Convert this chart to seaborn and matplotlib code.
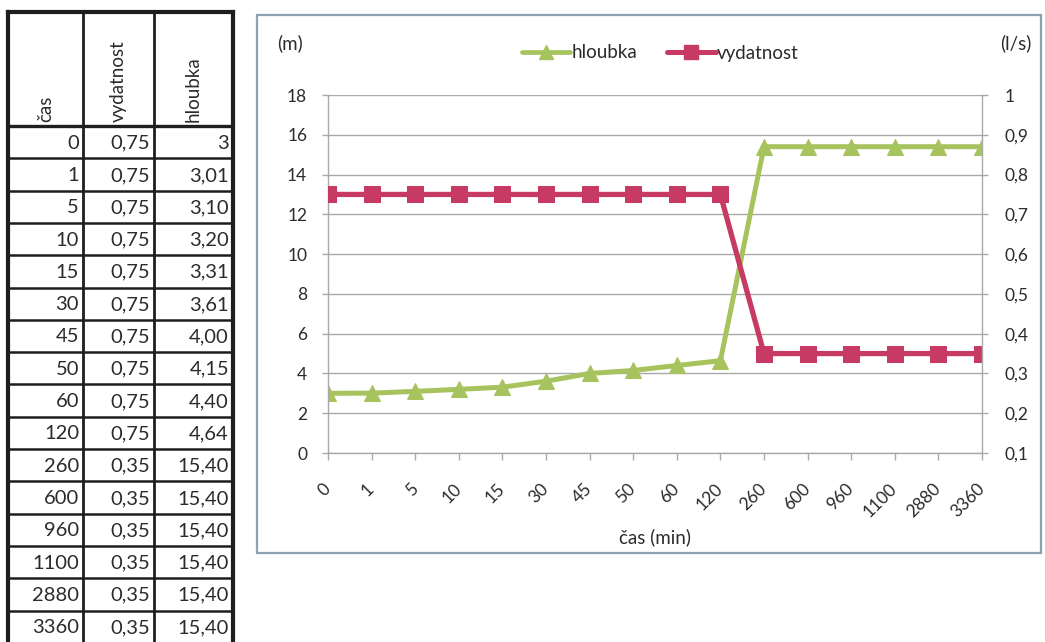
import matplotlib
matplotlib.use("Agg")
import matplotlib.pyplot as plt
from matplotlib.lines import Line2D
from matplotlib.patches import Rectangle
import seaborn as sns
import pandas as pd

# measured pumping test data
cas = [0, 1, 5, 10, 15, 30, 45, 50, 60, 120, 260, 600, 960, 1100, 2880, 3360]
vydatnost = [0.75, 0.75, 0.75, 0.75, 0.75, 0.75, 0.75, 0.75, 0.75, 0.75,
             0.35, 0.35, 0.35, 0.35, 0.35, 0.35]
hloubka = [3, 3.01, 3.10, 3.20, 3.31, 3.61, 4.00, 4.15, 4.40, 4.64,
           15.40, 15.40, 15.40, 15.40, 15.40, 15.40]
hloubka_text = ["3", "3,01", "3,10", "3,20", "3,31", "3,61", "4,00", "4,15", "4,40",
                "4,64", "15,40", "15,40", "15,40", "15,40", "15,40", "15,40"]
left_ticks = [0, 2, 4, 6, 8, 10, 12, 14, 16, 18]
right_ticks = [0.1, 0.2, 0.3, 0.4, 0.5, 0.6, 0.7, 0.8, 0.9, 1.0]

sns.set_theme(style="white")
plt.rcParams["font.family"] = ["Lato", "DejaVu Sans"]

W, H = 1045, 642
GREEN = "#A7C35E"
RED = "#C73A64"
GRID = "#A9A9A9"
TEXT = "#2B2B2B"


def fx(px):
    return px / W


def fy(py):
    return 1 - py / H


fig = plt.figure(figsize=(W / 100, H / 100), dpi=100)
fig.patch.set_facecolor("white")

df = pd.DataFrame({"pos": list(range(len(cas))), "cas": cas,
                   "hloubka": hloubka, "vydatnost": vydatnost})

# ---- chart frame ----
fig.add_artist(Rectangle((fx(257), fy(553)), fx(1041) - fx(257), fy(15) - fy(553),
                         transform=fig.transFigure, fill=False,
                         edgecolor="#8FA2B5", lw=1.6))

ax = fig.add_axes([fx(328), fy(453), fx(982) - fx(328), fy(95) - fy(453)])
ax.set_facecolor("none")
sns.lineplot(data=df, x="pos", y="hloubka", ax=ax, color=GREEN, lw=3.6,
             marker="^", markersize=11.5, markeredgecolor=GREEN, legend=False)
ax.set_xlim(0, len(cas) - 1)
ax.set_ylim(left_ticks[0], left_ticks[-1])
ax.set_yticks(left_ticks)
ax.set_yticklabels([str(v) for v in left_ticks])
ax.set_xticks(df["pos"])
ax.set_xticklabels([str(c) for c in cas], rotation=45, ha="right", va="center",
                   rotation_mode="anchor")
ax.set_xlabel("")
ax.set_ylabel("")
ax.yaxis.grid(True, color=GRID, lw=1.0)
ax.xaxis.grid(False)
ax.set_axisbelow(True)
for s in ["top", "right"]:
    ax.spines[s].set_visible(False)
for s in ["left", "bottom"]:
    ax.spines[s].set_color(GRID)
    ax.spines[s].set_linewidth(1.0)
ax.tick_params(axis="y", which="both", left=True, length=4, width=1, color=GRID,
               labelsize=12.5, labelcolor=TEXT, pad=11)
ax.tick_params(axis="x", which="both", bottom=True, length=5, width=1, color=GRID,
               labelsize=12.5, labelcolor=TEXT, pad=19)

ax2 = ax.twinx()
sns.lineplot(data=df, x="pos", y="vydatnost", ax=ax2, color=RED, lw=3.8,
             marker="s", markersize=11, markeredgecolor=RED, legend=False)
ax2.set_ylim(right_ticks[0], right_ticks[-1])
ax2.set_yticks(right_ticks)
ax2.set_yticklabels([("%g" % v).replace(".", ",") for v in right_ticks])
ax2.set_ylabel("")
for s in ["top", "left", "bottom"]:
    ax2.spines[s].set_visible(False)
ax2.spines["right"].set_color(GRID)
ax2.spines["right"].set_linewidth(1.0)
ax2.tick_params(axis="y", which="both", right=True, length=4, width=1, color=GRID,
                labelsize=12.5, labelcolor=TEXT, pad=12)

# axis unit captions and x title
fig.text(fx(290), fy(43), "(m)", ha="center", va="center", fontsize=13.5, color=TEXT)
fig.text(fx(1016), fy(43), "(l/s)", ha="center", va="center", fontsize=13.5, color=TEXT)
fig.text(fx(655), fy(537), "čas (min)", ha="center", va="center", fontsize=13.5, color=TEXT)

# legend
handles = [
    Line2D([], [], color=GREEN, lw=3.4, marker="^", markersize=10, markeredgecolor=GREEN),
    Line2D([], [], color=RED, lw=3.6, marker="s", markersize=10, markeredgecolor=RED),
]
fig.legend(handles, ["hloubka", "vydatnost"], loc="center",
           bbox_to_anchor=(fx(660), fy(53)), ncol=2, frameon=False,
           fontsize=13.5, handlelength=2.6, handletextpad=0.05,
           columnspacing=1.6, labelcolor=TEXT)

# ---- data table on the left ----
tab = fig.add_axes([0, 0, 1, 1])
tab.set_xlim(0, W)
tab.set_ylim(H, 0)
tab.axis("off")
tab.set_zorder(5)

col_edges = [8, 83, 154, 233]
top, head_bottom, row_h = 12, 126, 32.3
n_rows = len(cas)
bottom = head_bottom + n_rows * row_h
LINE = "#1E1E1E"

for i, xe in enumerate(col_edges):
    lw = 3.0 if i in (0, len(col_edges) - 1) else 2.0
    tab.plot([xe, xe], [top, bottom], color=LINE, lw=lw, solid_capstyle="projecting")
tab.plot([col_edges[0], col_edges[-1]], [top, top], color=LINE, lw=3.0,
         solid_capstyle="projecting")
for r in range(n_rows + 1):
    yy = head_bottom + r * row_h
    tab.plot([col_edges[0], col_edges[-1]], [yy, yy], color=LINE,
             lw=2.4 if r == 0 else 1.8)

headers = ["čas", "vydatnost", "hloubka"]
for c, name in enumerate(headers):
    cx = (col_edges[c] + col_edges[c + 1]) / 2
    tab.text(cx, head_bottom - 4, name, rotation=90, ha="center", va="bottom",
             fontsize=13.5, color=TEXT)

columns = [[str(v) for v in cas],
           [("%.2f" % v).replace(".", ",") for v in vydatnost],
           hloubka_text]
for c, vals in enumerate(columns):
    for r, txt in enumerate(vals):
        yy = head_bottom + (r + 0.5) * row_h
        tab.text(col_edges[c + 1] - 4, yy + 1, txt, ha="right", va="center",
                 fontsize=14.5, color=TEXT)

fig.savefig("out.png", dpi=100, facecolor="white")
